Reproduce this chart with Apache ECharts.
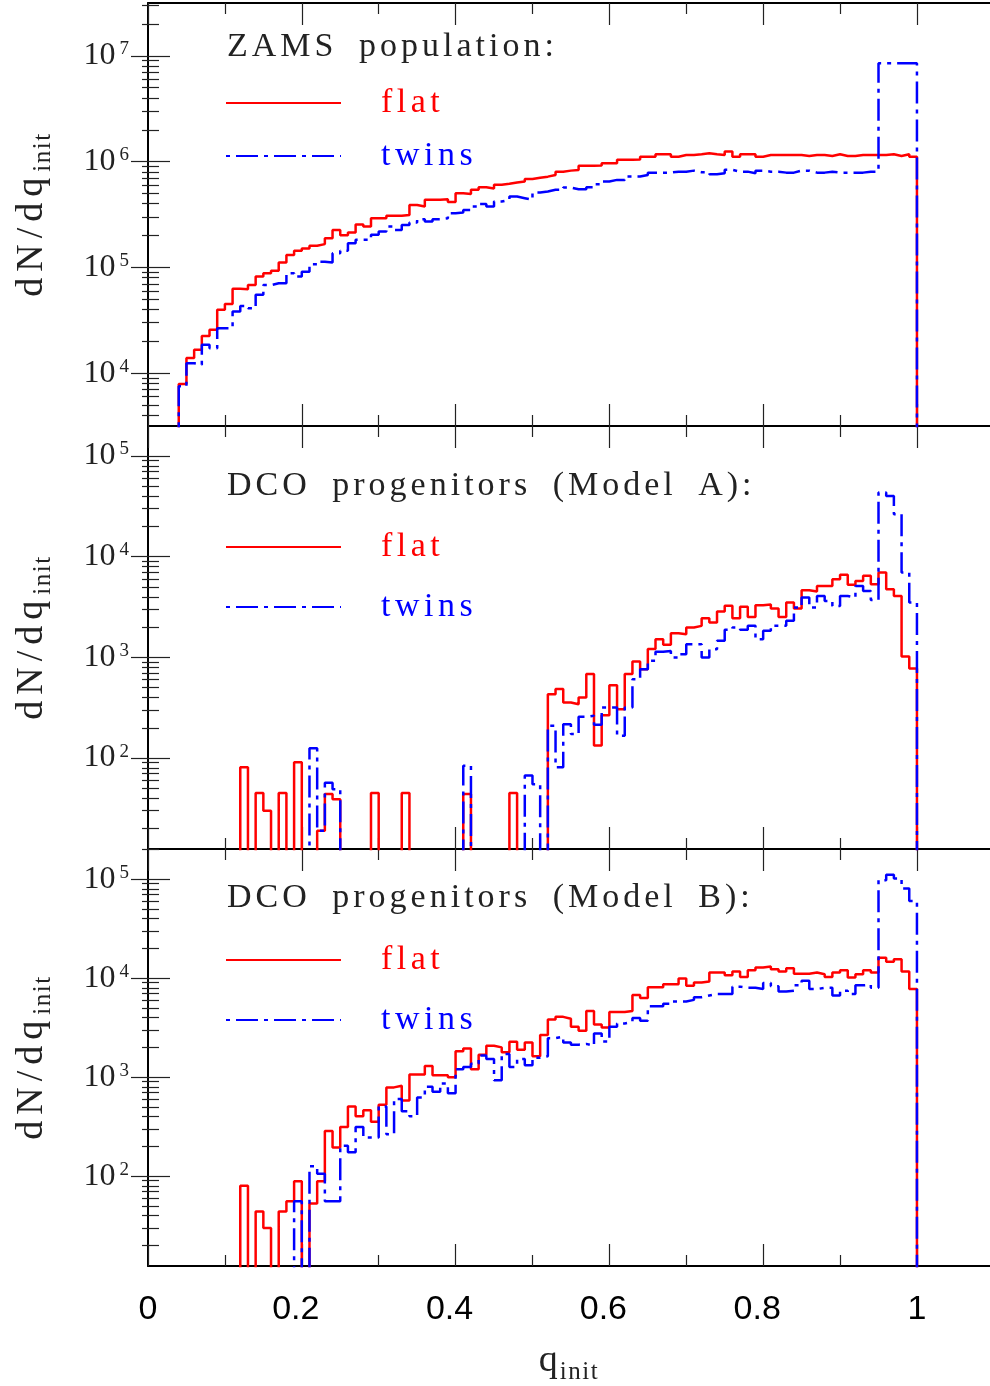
<!DOCTYPE html>
<html><head><meta charset="utf-8">
<script src="https://cdn.jsdelivr.net/npm/echarts@6/dist/echarts.min.js"></script>
<style>html,body{margin:0;padding:0;background:#fff}#c{width:990px;height:1386px}</style>
</head><body><div id="c"></div>
<script>
// ---------------- DATA (histogram bins of width 0.01 in q_init) ----------------
const BIN = 0.01;
const seriesNames = ['flat', 'twins'];
const panelTitles = ['ZAMS population:', 'DCO progenitors (Model A):', 'DCO progenitors (Model B):'];
const xTickLabels = [0, 0.2, 0.4, 0.6, 0.8, 1];

// Panel 1: ZAMS population (bins k = 4..99)
const zamsStart = 4;
const zamsFlat = [7900,13900,16600,22400,25700,39700,45000,62700,62000,68000,
 81800,88000,93000,111000,131000,144000,151000,160000,166000,189000,
 226000,201000,214000,255000,243000,292000,292000,307000,307000,313000,
 389000,376000,435000,435000,441000,416000,501000,495000,541000,573000,
 556000,603000,617000,636000,650000,686000,705000,721000,748000,803000,
 822000,832000,912000,915000,920000,966000,966000,1040000,1040000,1050000,
 1114000,1114000,1175000,1175000,1114000,1157000,1157000,1175000,1200000,1175000,
 1157000,1245000,1114000,1175000,1175000,1114000,1157000,1157000,1157000,1157000,
 1157000,1132000,1157000,1157000,1132000,1175000,1132000,1132000,1157000,1157000,
 1157000,1157000,1175000,1132000,1175000,1114000];
const zamsTwins = [7500,12400,12000,18500,17200,26600,26600,38200,43200,41100,
 55000,68000,70800,70800,88000,81800,91000,107000,113000,111000,
 136000,144000,169000,182000,182000,203000,218000,243000,226000,251000,
 265000,285000,271000,285000,292000,325000,330000,349000,376000,398000,
 376000,419000,435000,467000,451000,435000,510000,521000,541000,541000,
 569000,548000,548000,573000,611000,648000,672000,672000,722000,722000,
 748000,787000,787000,787000,804000,804000,822000,795000,795000,760000,
 777000,836000,804000,804000,777000,822000,804000,804000,787000,787000,
 822000,822000,787000,787000,804000,787000,787000,787000,787000,804000,
 804000,8500000,8500000,8500000,8500000,8500000];

// Panel 2: DCO progenitors (Model A)
const modelAFlatStart = 12;
const modelAFlat = [81,0,45,30,0,45,0,91,0,0,
 19,44,39,0,0,0,0,45,0,0,
 0,45,0,0,0,0,0,0,0,44,
 0,0,0,0,0,45,0,0,0,0,
 431,484,357,343,400,682,133,267,530,306,
 682,912,764,1208,1518,1333,1740,1700,1980,2056,
 2450,2220,2850,3250,2450,3180,2520,3300,3350,3055,
 2520,3510,3055,4650,4510,5130,5130,5970,6600,5250,
 5750,6450,5330,6970,4750,4080,1020,777];
const modelATwinsStart = 21;
const modelATwins = [125,19,57,49,0,0,0,0,0,0,
 0,0,0,0,0,0,0,0,0,0,
 84,0,0,0,0,0,0,0,67,55,
 0,209,81,217,173,257,263,214,318,318,
 167,318,608,764,925,1135,1160,1000,1077,1352,
 1352,1000,1205,1460,1878,1980,1878,2056,1515,1836,
 2056,2056,2307,3127,3930,3127,4076,3635,3240,4076,
 3930,5130,4575,3725,43300,40100,26400,6970,3510];

// Panel 3: DCO progenitors (Model B)
const modelBFlatStart = 12;
const modelBFlat = [80,0,44,30,0,44,56,89,0,53,
 89,286,195,314,507,404,463,355,527,789,
 820,582,1064,1064,1297,1048,1048,997,1828,1950,
 1200,1690,2080,2000,1787,2280,1897,2240,1630,2670,
 3830,4070,3890,3240,2950,4670,3410,3180,4560,4560,
 4670,6770,6310,8090,8090,8710,8710,9930,8390,9060,
 9270,11400,11400,10700,11700,10300,12000,12800,13100,12300,
 11700,12600,11100,11100,11400,10950,10300,11400,12000,10150,
 10950,12000,11400,16100,14700,15500,11700,7770];
const modelBTwinsStart = 19;
const modelBTwins = [56,0,126,106,56,56,203,175,314,246,
 246,507,266,604,453,404,623,802,715,865,
 689,1200,1265,1366,1653,1530,933,1718,1265,1530,
 1320,1570,1630,2480,2570,2240,2130,2170,2080,2770,
 2290,3240,3490,3630,3970,3720,5200,5200,5520,5820,
 5820,6040,6430,6680,6940,6940,6940,8220,8000,8000,
 7770,8920,8270,7330,7480,8470,9420,7770,8000,8000,
 6680,7480,6940,8470,8620,8000,97700,111000,101600,80700,
 60300];

// ---------------- LAYOUT ----------------
const panels = [
  {title: panelTitles[0], logMin: 3.5, logMax: 7.5, top: 3, titleTop: 30, legendTop: 83, legendGap: 13,
   flat: [zamsStart, zamsFlat], twins: [zamsStart, zamsTwins]},
  {title: panelTitles[1], logMin: 1.097, logMax: 5.298, top: 426, titleTop: 469, legendTop: 527, legendGap: 20,
   flat: [modelAFlatStart, modelAFlat], twins: [modelATwinsStart, modelATwins]},
  {title: panelTitles[2], logMin: 1.093, logMax: 5.305, top: 849, titleTop: 881, legendTop: 940, legendGap: 20,
   flat: [modelBFlatStart, modelBFlat], twins: [modelBTwinsStart, modelBTwins]}
];
const FLOOR = 1; // empty bins drop below the visible range
const X_MAX = 1.095;

function histPoints(start, vals) {
  const pts = [[+(start * BIN).toFixed(2), FLOOR]];
  vals.forEach((v, i) => pts.push([+((start + i) * BIN).toFixed(2), v > 0 ? v : FLOOR]));
  pts.push([+((start + vals.length) * BIN).toFixed(2), FLOOR]);
  return pts;
}
// wide letter spacing (as in the original plotting font): one rich token per character
function spaced(str, style, spaceStyle) {
  return str.split('').map(ch => '{' + (ch === ' ' && spaceStyle ? spaceStyle : style) + '|' + ch + '}').join('');
}

const serif = 'Liberation Serif';
const tickStyle = {color: '#222', width: 1.2};
const xMajor = [0, 0.2, 0.4, 0.6, 0.8, 1.0];
const xMinor = [0.1, 0.3, 0.5, 0.7, 0.9];

const grids = [], xAxes = [], yAxes = [], series = [], titles = [], legends = [];

panels.forEach((p, g) => {
  grids.push({left: 148, top: p.top, width: 842, height: 423, containLabel: false});
  const isLast = g === panels.length - 1;
  const xBase = {type: 'value', gridIndex: g, min: 0, max: X_MAX, splitLine: {show: false},
    axisLabel: {show: false}, axisLine: {show: false, onZero: false}};
  const lineOn = {show: true, onZero: false, lineStyle: {color: '#000', width: 2}};
  xAxes.push(Object.assign({}, xBase, {
    position: 'bottom', axisLine: lineOn,
    axisTick: {show: true, inside: true, length: 22, customValues: xMajor, lineStyle: tickStyle},
    axisLabel: isLast ? {
      show: true, customValues: xTickLabels, margin: 27,
      formatter: v => (v === 0 || v === 1) ? '{c|' + v + '}' : '{d|' + v + '}',
      rich: {
        c: {fontFamily: 'Liberation Sans', fontSize: 34, color: '#000'},
        d: {fontFamily: 'Liberation Sans', fontSize: 34, color: '#000', padding: [0, 12, 0, 0]}
      }
    } : {show: false},
    name: isLast ? spaced('q', 'a') + spaced('init', 'b') : '',
    nameLocation: 'middle', nameGap: 72,
    nameTextStyle: {rich: {
      a: {fontFamily: serif, fontSize: 38, color: '#222', padding: [0, 2, 0, 0]},
      b: {fontFamily: serif, fontSize: 25, color: '#222', verticalAlign: 'bottom', padding: [22, 1.5, 0, 0]}
    }}
  }));
  xAxes.push(Object.assign({}, xBase, {position: 'bottom',
    axisTick: {show: true, inside: true, length: 11, customValues: xMinor, lineStyle: tickStyle}}));
  xAxes.push(Object.assign({}, xBase, {position: 'top', axisLine: lineOn,
    axisTick: {show: true, inside: true, length: 22, customValues: xMajor, lineStyle: tickStyle}}));
  xAxes.push(Object.assign({}, xBase, {position: 'top',
    axisTick: {show: true, inside: true, length: 11, customValues: xMinor, lineStyle: tickStyle}}));

  const yMin = Math.pow(10, p.logMin), yMax = Math.pow(10, p.logMax);
  const majors = [], minors = [];
  for (let e = Math.floor(p.logMin); e <= Math.ceil(p.logMax); e++) {
    const v = Math.pow(10, e);
    if (v >= yMin && v <= yMax) majors.push(v);
    for (let m = 2; m <= 9; m++) { const w = m * v; if (w > yMin && w < yMax) minors.push(w); }
  }
  const yBase = {type: 'log', logBase: 10, gridIndex: g, min: yMin, max: yMax,
    splitLine: {show: false}, axisLabel: {show: false}, axisLine: {show: false}};
  yAxes.push(Object.assign({}, yBase, {
    position: 'left', axisLine: {show: true, lineStyle: {color: '#000', width: 2}},
    axisTick: {show: true, inside: true, length: 22, customValues: majors, lineStyle: tickStyle},
    axisLabel: {show: true, customValues: majors, margin: 19,
      formatter: v => '{b|10}{s|' + Math.round(Math.log10(v)) + '}',
      rich: {
        b: {fontFamily: serif, fontSize: 32, color: '#222'},
        s: {fontFamily: serif, fontSize: 19, color: '#222', verticalAlign: 'top', padding: [0, 0, 0, 4]}
      }},
    name: spaced('dN/dq', 'a') + spaced('init', 'b'), nameLocation: 'middle', nameGap: 92, nameRotate: 90,
    nameTextStyle: {rich: {
      a: {fontFamily: serif, fontSize: 38, color: '#222', padding: [0, 6, 0, 0]},
      b: {fontFamily: serif, fontSize: 25, color: '#222', verticalAlign: 'bottom', padding: [22, 1.5, 0, 0]}
    }}
  }));
  yAxes.push(Object.assign({}, yBase, {position: 'left',
    axisTick: {show: true, inside: true, length: 11, customValues: minors, lineStyle: tickStyle}}));
  // right-hand axis sits just beyond the visible edge in the original, so only tick stubs show
  yAxes.push(Object.assign({}, yBase, {position: 'right',
    axisTick: {show: true, inside: true, length: 17, customValues: majors, lineStyle: tickStyle}}));
  yAxes.push(Object.assign({}, yBase, {position: 'right',
    axisTick: {show: true, inside: true, length: 6, customValues: minors, lineStyle: tickStyle}}));

  series.push({type: 'line', name: seriesNames[0], xAxisIndex: g * 4, yAxisIndex: g * 4,
    step: 'end', symbol: 'none', clip: true, silent: true, z: 3,
    lineStyle: {color: '#ff0000', width: 2.5}, itemStyle: {color: '#ff0000'},
    data: histPoints(p.flat[0], p.flat[1])});
  series.push({type: 'line', name: seriesNames[1], xAxisIndex: g * 4, yAxisIndex: g * 4,
    step: 'end', symbol: 'none', clip: true, silent: true, z: 4,
    lineStyle: {color: '#0000ff', width: 2.5, type: [22, 6, 4, 6], dashOffset: 28}, itemStyle: {color: '#0000ff'},
    data: histPoints(p.twins[0], p.twins[1])});

  titles.push({text: spaced(p.title, 'c', 's'), left: 227, top: p.titleTop, padding: 0,
    textStyle: {fontFamily: serif, fontSize: 34, fontWeight: 'normal', color: '#222',
      rich: {
        c: {fontFamily: serif, fontSize: 34, color: '#222', padding: [0, 4, 0, 0]},
        s: {fontFamily: serif, fontSize: 34, color: '#222', padding: [0, 13, 0, 0]}
      }}});
  legends.push({left: 225, top: p.legendTop, orient: 'vertical', padding: 0,
    itemWidth: 115, itemHeight: 20, itemGap: p.legendGap, selectedMode: false,
    itemStyle: {color: 'transparent', borderWidth: 0, opacity: 0},
    formatter: name => spaced(name, 'c'),
    textStyle: {fontFamily: serif, fontSize: 34, lineHeight: 40, padding: [0, 0, 0, 35],
      rich: {c: {fontFamily: serif, fontSize: 34, lineHeight: 40, padding: [0, 4.5, 0, 0]}}},
    data: [{name: seriesNames[0], textStyle: {color: '#ff0000'}},
           {name: seriesNames[1], textStyle: {color: '#0000ff'}}]});
});

const chart = echarts.init(document.getElementById('c'), null, {renderer: 'canvas'});
chart.setOption({
  animation: false,
  backgroundColor: '#fff',
  title: titles, legend: legends, grid: grids, xAxis: xAxes, yAxis: yAxes, series: series
});
</script></body></html>
